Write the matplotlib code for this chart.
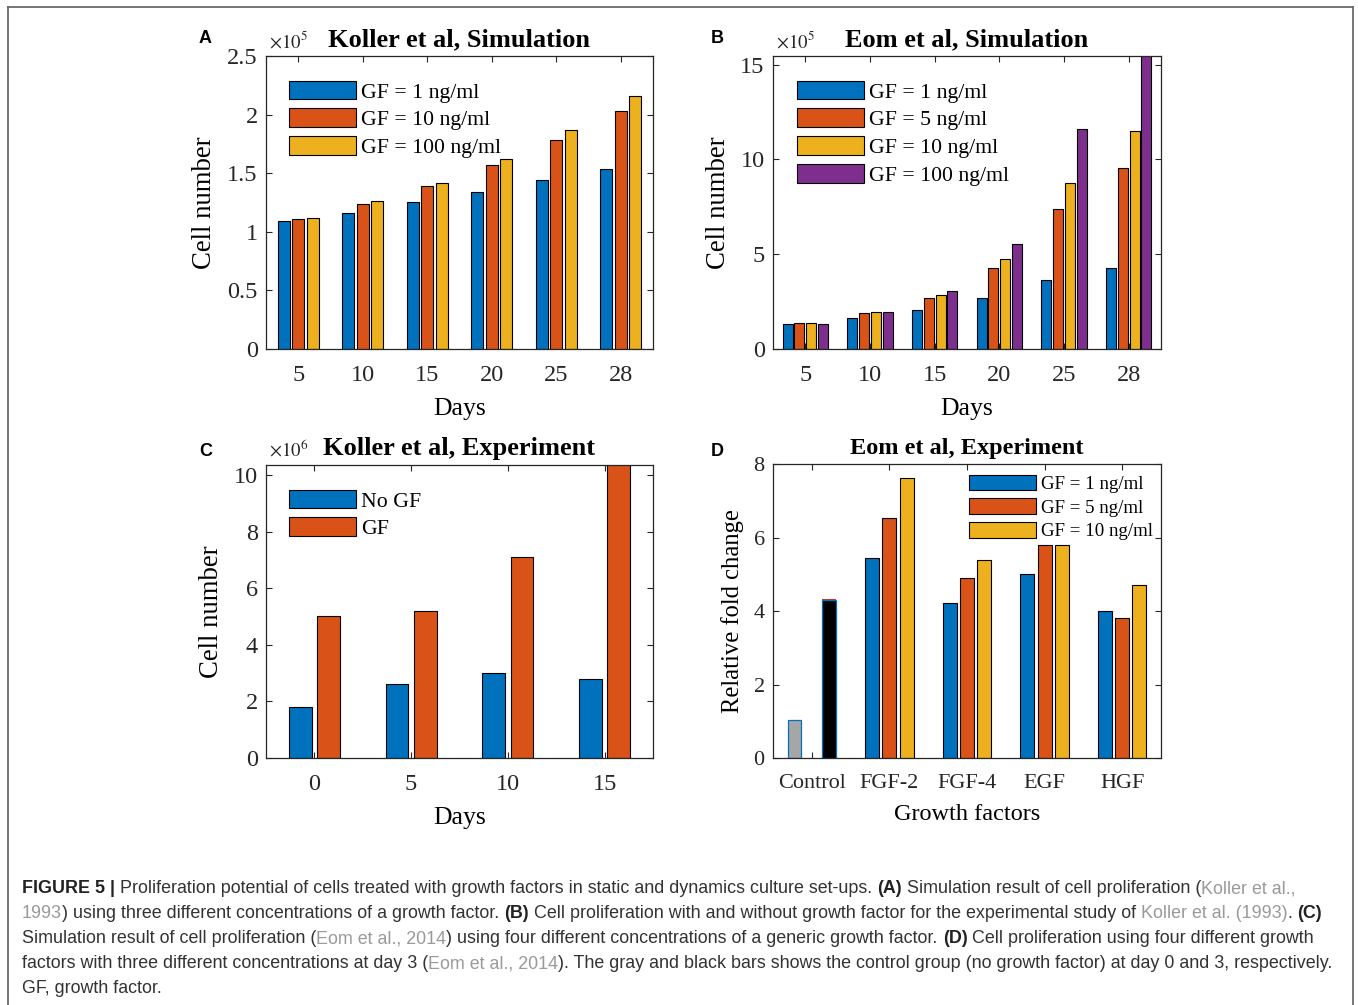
import re
import numpy as np
import matplotlib
matplotlib.use("Agg")
import matplotlib.pyplot as plt
from matplotlib.font_manager import FontProperties
from matplotlib.ticker import FormatStrFormatter, FixedLocator
from matplotlib.lines import Line2D

# ---------------- data ----------------
days_sim = ["5", "10", "15", "20", "25", "28"]
koller_sim_labels = ["GF = 1 ng/ml", "GF = 10 ng/ml", "GF = 100 ng/ml"]
koller_sim_gf1 = [1.09, 1.16, 1.25, 1.34, 1.44, 1.54]
koller_sim_gf10 = [1.11, 1.24, 1.39, 1.57, 1.78, 2.03]
koller_sim_gf100 = [1.12, 1.26, 1.42, 1.62, 1.87, 2.16]

eom_sim_labels = ["GF = 1 ng/ml", "GF = 5 ng/ml", "GF = 10 ng/ml", "GF = 100 ng/ml"]
eom_sim_gf1 = [1.32, 1.62, 2.06, 2.69, 3.66, 4.29]
eom_sim_gf5 = [1.39, 1.88, 2.71, 4.26, 7.37, 9.55]
eom_sim_gf10 = [1.37, 1.95, 2.87, 4.75, 8.76, 11.5]
eom_sim_gf100 = [1.32, 1.95, 3.08, 5.52, 11.6, 15.6]

days_exp = ["0", "5", "10", "15"]
koller_exp_labels = ["No GF", "GF"]
koller_exp_nogf = [1.8, 2.6, 3.0, 2.8]
koller_exp_gf = [5.0, 5.2, 7.1, 10.5]

gf_names = ["Control", "FGF-2", "FGF-4", "EGF", "HGF"]
eom_exp_labels = ["GF = 1 ng/ml", "GF = 5 ng/ml", "GF = 10 ng/ml"]
eom_exp_gf1 = [np.nan, 5.43, 4.21, 5.0, 3.99]
eom_exp_gf5 = [np.nan, 6.52, 4.90, 5.79, 3.80]
eom_exp_gf10 = [np.nan, 7.63, 5.38, 5.79, 4.71]
control_day0 = 1.03
control_day3 = 4.29
control_day3_edge = 4.33

# ---------------- style ----------------
W, H = 1358, 1005
plt.rcParams["font.family"] = ["Liberation Serif", "DejaVu Serif"]
plt.rcParams["mathtext.fontset"] = "stix"
AX_COL = "#262626"
C_BLUE = "#0072BD"
C_ORANGE = "#D95319"
C_YELLOW = "#EDB120"
C_PURPLE = "#7E2F8E"

fig = plt.figure(figsize=(W / 100, H / 100), dpi=100)


def px_axes(x0, y0, x1, y1):
    return fig.add_axes([x0 / W, 1 - y1 / H, (x1 - x0) / W, (y1 - y0) / H])


def style_axes(ax, ymax, yticks, tsize, fmt="%g"):
    for s in ax.spines.values():
        s.set_color(AX_COL)
        s.set_linewidth(0.9)
    ax.set_ylim(0, ymax)
    ax.yaxis.set_major_locator(FixedLocator(yticks))
    ax.yaxis.set_major_formatter(FormatStrFormatter(fmt))
    ax.tick_params(direction="in", length=4, width=0.8, colors=AX_COL,
                   top=True, right=True, labelsize=tsize)
    ax.tick_params(axis="x", pad=11.5)
    ax.tick_params(axis="y", pad=6)


def grouped(ax, cats, series, colors, pitch, width):
    x = np.arange(1, len(cats) + 1)
    n = len(series)
    handles = []
    for i, (vals, col) in enumerate(zip(series, colors)):
        off = (i - (n - 1) / 2) * pitch
        h = ax.bar(x + off, vals, width=width, color=col, edgecolor="black",
                   linewidth=0.8, zorder=2)
        handles.append(h)
    ax.set_xlim(0.5, len(cats) + 0.5)
    ax.set_xticks(x)
    ax.set_xticklabels(cats)
    return handles


def add_legend(ax, handles, labels, anchor, loc, fs, hl, hh, spacing):
    leg = ax.legend(handles, labels, loc=loc, bbox_to_anchor=anchor,
                    frameon=False, fontsize=fs, handlelength=hl,
                    handleheight=hh, handletextpad=0.25, labelspacing=spacing,
                    borderpad=0, borderaxespad=0)
    return leg


# ---------------- Panel A ----------------
axA = px_axes(266, 56, 653, 349)
hA = grouped(axA, days_sim, [koller_sim_gf1, koller_sim_gf10, koller_sim_gf100],
             [C_BLUE, C_ORANGE, C_YELLOW], 0.222, 0.186)
style_axes(axA, 2.5, [0, 0.5, 1, 1.5, 2, 2.5], 17.5)
axA.set_title("Koller et al, Simulation", fontsize=19, fontweight="bold", pad=7)
axA.set_xlabel("Days", fontsize=18.5, labelpad=9)
axA.set_ylabel("Cell number", fontsize=19.3, labelpad=7)
add_legend(axA, hA, koller_sim_labels, (0.0594, 0.916), "upper left", 15.7, 3.07, 0.95, 0.27)

# ---------------- Panel B ----------------
axB = px_axes(773, 56, 1161, 349)
hB = grouped(axB, days_sim, [eom_sim_gf1, eom_sim_gf5, eom_sim_gf10, eom_sim_gf100],
             [C_BLUE, C_ORANGE, C_YELLOW, C_PURPLE], 0.183, 0.155)
style_axes(axB, 15.45, [0, 5, 10, 15], 17.5)
axB.set_title("Eom et al, Simulation", fontsize=19, fontweight="bold", pad=7)
axB.set_xlabel("Days", fontsize=18.5, labelpad=9)
axB.set_ylabel("Cell number", fontsize=19.3, labelpad=7)
add_legend(axB, hB, eom_sim_labels, (0.062, 0.916), "upper left", 15.7, 3.07, 0.95, 0.27)

# ---------------- Panel C ----------------
axC = px_axes(266, 465, 653, 758)
hC = grouped(axC, days_exp, [koller_exp_nogf, koller_exp_gf],
             [C_BLUE, C_ORANGE], 0.29, 0.235)
style_axes(axC, 10.35, [0, 2, 4, 6, 8, 10], 17.5)
axC.set_title("Koller et al, Experiment", fontsize=19, fontweight="bold", pad=7)
axC.set_xlabel("Days", fontsize=18.5, labelpad=9)
axC.set_ylabel("Cell number", fontsize=19.3, labelpad=7)
add_legend(axC, hC, koller_exp_labels, (0.0594, 0.916), "upper left", 15.7, 3.07, 0.95, 0.27)

# ---------------- Panel D ----------------
axD = px_axes(773, 464, 1161, 758)
hD = grouped(axD, gf_names, [eom_exp_gf1, eom_exp_gf5, eom_exp_gf10],
             [C_BLUE, C_ORANGE, C_YELLOW], 0.222, 0.181)
xc = np.arange(1, len(gf_names) + 1)
axD.bar(xc[0] - 0.222, control_day0, width=0.17, color="#A6A6A6",
        edgecolor=C_BLUE, linewidth=0.9, zorder=2)
axD.bar(xc[0] + 0.222, control_day3_edge, width=0.19, color="#E03020",
        linewidth=0, zorder=2)
axD.bar(xc[0] + 0.222, control_day3, width=0.19, color="black",
        edgecolor=C_BLUE, linewidth=0.9, zorder=3)
style_axes(axD, 8, [0, 2, 4, 6, 8], 16)
axD.set_title("Eom et al, Experiment", fontsize=17.5, fontweight="bold", pad=7)
axD.set_xlabel("Growth factors", fontsize=17.5, labelpad=8)
axD.set_ylabel("Relative fold change", fontsize=17.7, labelpad=7)
add_legend(axD, hD, eom_exp_labels, (0.979, 0.964), "upper right", 13.6, 3.55, 0.9, 0.285)

# exponent labels
for ax, e in [(axA, r"$\times10^{5}$"), (axB, r"$\times10^{5}$"), (axC, r"$\times10^{6}$")]:
    ax.text(0.008, 1.0 + 8 / 293, e, transform=ax.transAxes, ha="left",
            va="baseline", fontsize=13.5, color=AX_COL)

# panel letters
for (lx, ly, lab) in [(199, 43, "A"), (711, 43, "B"), (199, 456, "C"), (711, 456, "D")]:
    fig.text(lx / W, 1 - ly / H, lab, fontsize=13, fontweight="bold",
             family="Liberation Sans", ha="left", va="baseline")

# figure frame (left, top, right)
for xs, ys in [([7.5, 7.5], [7, 1010]), ([7.5, 1353], [7, 7]), ([1353, 1353], [7, 1010])]:
    fig.add_artist(Line2D([x / W for x in xs], [1 - y / H for y in ys],
                          color="#6a6a6a", linewidth=1.3))

# ---------------- caption ----------------
cap_lines = [
    [("FIGURE 5 |", "b"), (" Proliferation potential of cells treated with growth factors in static and dynamics culture set-ups. ", "n"),
     ("(A)", "b"), (" Simulation result of cell proliferation (", "n"), ("Koller et al.,", "g")],
    [("1993", "g"), (") using three different concentrations of a growth factor. ", "n"), ("(B)", "b"),
     (" Cell proliferation with and without growth factor for the experimental study of ", "n"),
     ("Koller et al. (1993)", "g"), (". ", "n"), ("(C)", "b")],
    [("Simulation result of cell proliferation (", "n"), ("Eom et al., 2014", "g"),
     (") using four different concentrations of a generic growth factor. ", "n"), ("(D)", "b"),
     (" Cell proliferation using four different growth", "n")],
    [("factors with three different concentrations at day 3 (", "n"), ("Eom et al., 2014", "g"),
     ("). The gray and black bars shows the control group (no growth factor) at day 0 and 3, respectively.", "n")],
    [("GF, growth factor.", "n")],
]
cap_baselines = [893, 918, 943, 968, 993]
cap_size = 12.9
cap_colors = {"n": "#333333", "b": "#222222", "g": "#9a9a9a"}

renderer = fig.canvas.get_renderer()


def adv(s, fp):
    w1 = renderer.get_text_width_height_descent("|" + s + "|", fp, ismath=False)[0]
    w0 = renderer.get_text_width_height_descent("||", fp, ismath=False)[0]
    return w1 - w0


for line, yb in zip(cap_lines, cap_baselines):
    x = 22.0
    for seg, st in line:
        fp = FontProperties(family="Liberation Sans", size=cap_size,
                            weight="bold" if st == "b" else "normal")
        sp = adv(" ", fp)
        core = seg.strip(" ")
        lead = len(seg) - len(seg.lstrip(" "))
        trail = len(seg) - len(seg.rstrip(" "))
        x += sp * lead
        fig.text(x / W, 1 - yb / H, core, fontproperties=fp,
                 color=cap_colors[st], ha="left", va="baseline")
        x += adv(core, fp) + sp * trail

fig.savefig("out.png", dpi=100)
